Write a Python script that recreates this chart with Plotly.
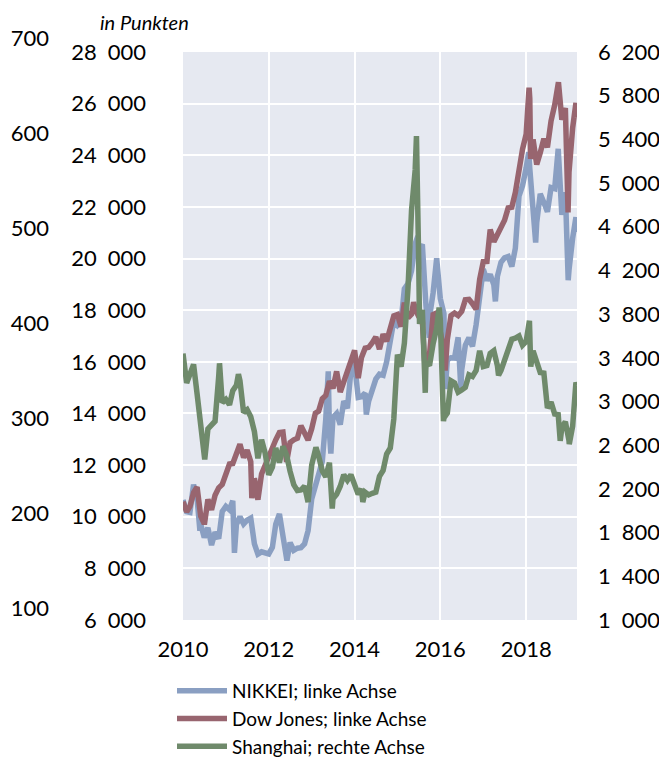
import pandas as pd
import plotly.graph_objects as go

# ---------------- data ----------------
months = pd.date_range("2010-01-01", "2019-03-01", freq="MS")  # 111 month starts

nikkei_monthly = [
    10650, 10200, 10170, 11240, 10700, 9710, 9190, 9570, 8900, 9400, 9150, 10200,   # 2010
    10400, 10270, 10620, 9710, 10000, 9720, 9870, 9950, 8950, 8550, 8640, 8600,     # 2011
    8560, 8810, 9710, 10110, 9350, 8440, 9000, 8700, 8780, 8800, 8950, 9460,        # 2012
    10690, 11190, 11600, 12140, 13800, 13260, 13850, 14000, 13570, 14480, 14200, 15660,  # 2013
    15910, 14620, 14650, 14790, 14480, 14920, 15330, 15520, 15480, 16000, 16860, 17590,  # 2014
    17410, 17560, 18830, 19030, 19530, 20570, 20330, 20550, 18170, 17720, 18680, 20010,  # 2015
    18450, 17870, 16080, 16160, 16150, 16950, 15680, 16640, 16930, 16600, 17440, 18510,  # 2016
    19590, 19150, 19390, 18980, 19310, 19860, 20030, 20080, 19690, 20400, 22420, 22820,  # 2017
    23510, 23490, 21720, 21390, 22510, 22170, 21810, 22750, 22710, 24250, 21690, 22570,  # 2018
    19560, 20790, 21600,                                                             # 2019
]
nikkei_extra_dates = ["2010-05-25", "2011-03-15", "2012-06-04", "2013-05-22", "2013-06-13",
                      "2013-12-30", "2014-04-11", "2015-06-24", "2015-09-29", "2016-02-12",
                      "2016-06-24", "2017-04-14", "2018-01-23", "2018-03-23", "2018-12-25",
                      "2019-03-08"]
nikkei_extra_values = [9460, 8600, 8300, 15630, 12450,
                       16290, 13960, 20870, 16930, 14950,
                       14950, 18340, 24120, 20620, 19160,
                       21030]

dow_monthly = [
    10580, 10190, 10400, 10930, 11150, 10020, 9730, 10670, 10270, 10830, 11120, 11250,  # 2010
    11670, 12040, 12060, 12380, 12810, 12290, 12580, 12130, 11490, 10660, 11660, 12020,  # 2011
    12400, 12710, 12980, 13260, 13280, 12120, 12870, 12980, 13040, 13520, 13230, 12970,  # 2012
    13410, 14010, 14090, 14570, 14700, 15250, 14970, 15630, 14830, 15190, 15620, 16010,  # 2013
    16440, 15370, 16170, 16530, 16560, 16740, 16960, 16490, 17070, 16800, 17370, 17780,  # 2014
    17830, 17360, 18290, 17700, 17840, 18040, 17760, 17600, 16060, 16270, 17830, 17890,  # 2015
    17150, 16450, 16870, 17790, 17890, 17790, 17950, 18400, 18420, 18250, 18040, 19190,  # 2016
    19880, 19890, 21120, 20650, 20910, 21140, 21480, 21960, 21990, 22560, 23440, 24230,  # 2017
    24820, 26190, 24610, 23640, 24100, 24640, 24310, 25330, 25950, 26650, 25380, 25830,  # 2018
    23350, 25060, 26030,                                                              # 2019
]
dow_extra_dates = ["2010-07-02", "2011-08-10", "2015-05-19", "2015-08-25", "2016-02-11",
                   "2018-01-26", "2018-02-08", "2018-10-03", "2018-12-24", "2019-03-08"]
dow_extra_values = [9690, 10720, 18310, 15670, 15660,
                    26620, 23860, 26830, 21790, 25450]

shanghai_monthly = [
    3440, 3170, 3250, 3340, 3070, 2780, 2510, 2750, 2790, 2820, 3230, 2990,   # 2010
    3020, 2970, 3100, 3150, 3190, 2900, 2925, 2860, 2725, 2480, 2650, 2530,   # 2011
    2330, 2400, 2575, 2440, 2590, 2510, 2360, 2240, 2185, 2190, 2225, 2080,   # 2012
    2420, 2565, 2500, 2365, 2310, 2440, 2110, 2150, 2225, 2330, 2280, 2330,   # 2013
    2225, 2150, 2200, 2170, 2145, 2160, 2170, 2315, 2370, 2520, 2575, 2840,   # 2014
    3430, 3320, 3535, 4040, 4750, 5120, 4290, 3840, 3360, 3330, 3530, 3670,   # 2015
    3750, 2850, 2895, 3190, 3170, 3085, 3105, 3130, 3245, 3230, 3285, 3465,   # 2016
    3320, 3330, 3440, 3465, 3330, 3285, 3390, 3490, 3570, 3580, 3600, 3515,   # 2017
    3550, 3660, 3465, 3350, 3265, 3260, 2940, 2995, 2885, 2880, 2760, 2815,   # 2018
    2640, 2775, 3175,                                                         # 2019
]
shanghai_extra_dates = ["2010-07-05", "2010-11-08", "2011-04-18", "2013-02-06", "2013-06-25",
                        "2014-03-12", "2015-06-12", "2015-07-08", "2015-08-26", "2015-12-22",
                        "2016-01-28", "2017-05-11", "2018-01-29", "2018-02-09", "2018-10-18",
                        "2019-01-03", "2019-03-08"]
shanghai_extra_values = [2470, 3350, 3250, 2580, 2020,
                         2080, 5430, 3710, 3080, 3860,
                         2820, 3240, 3740, 3320, 2640,
                         2610, 3150]

left_ticks = list(range(6000, 28001, 2000))
right_ticks = list(range(1000, 6201, 400))
extra_ticks = list(range(100, 701, 100))
year_ticks = ["2010-01-01", "2012-01-01", "2014-01-01", "2016-01-01", "2018-01-01"]
year_labels = ["2010", "2012", "2014", "2016", "2018"]

series_names = ["NIKKEI; linke Achse", "Dow Jones; linke Achse", "Shanghai; rechte Achse"]
series_colors = ["#8a9fc2", "#98656f", "#6f8a6b"]


def merge(monthly, extra_dates, extra_values):
    df = pd.DataFrame({
        "d": list(months) + list(pd.to_datetime(extra_dates)),
        "v": list(monthly) + list(extra_values),
    }).sort_values("d")
    return df["d"], df["v"]


def fmt(v):
    return f"{v:,}".replace(",", "\u2002")


# ---------------- figure ----------------
# the page body adds an 8px margin, so the figure is laid out 8px up/left
W, H = 659, 751
ML, MR, MT, MB = 42, 90, 30, 139
plot_w = W - ML - MR
plot_h = H - MT - MB
x0_frac = (175 - ML) / plot_w
main_top = (612 - 44) / plot_h
ex_bottom = (612 - 600.5) / plot_h
ex_top = (612 - 30.5) / plot_h

FONT = "Lato, 'Open Sans', sans-serif"

fig = go.Figure()

for (monthly, ed, ev), name, color, yax in zip(
        [(nikkei_monthly, nikkei_extra_dates, nikkei_extra_values),
         (dow_monthly, dow_extra_dates, dow_extra_values),
         (shanghai_monthly, shanghai_extra_dates, shanghai_extra_values)],
        series_names, series_colors, ["y", "y", "y2"]):
    d, v = merge(monthly, ed, ev)
    fig.add_trace(go.Scatter(x=d, y=v, name=name, mode="lines",
                             line=dict(color=color, width=5.5),
                             xaxis="x", yaxis=yax))

# empty trace carrying the extra far-left axis
fig.add_trace(go.Scatter(x=[], y=[], xaxis="x2", yaxis="y3", showlegend=False,
                         hoverinfo="skip"))

fig.add_shape(type="rect", xref="x domain", yref="y domain", x0=0, x1=1, y0=0, y1=1,
              fillcolor="#e6e9f1", line=dict(width=0), layer="below")

tickfont = dict(family=FONT, size=22, color="#000000")

fig.update_layout(
    width=W, height=H,
    margin=dict(l=ML, r=MR, t=MT, b=MB, autoexpand=False),
    paper_bgcolor="white",
    plot_bgcolor="rgba(0,0,0,0)",
    font=dict(family=FONT, size=21, color="#000000"),
    showlegend=True,
    legend=dict(x=(164 - ML) / plot_w, y=(612 - 664) / plot_h, xanchor="left", yanchor="top",
                font=dict(family=FONT, size=19, color="#000000"),
                bgcolor="rgba(0,0,0,0)", tracegroupgap=0, itemwidth=50),
    xaxis=dict(domain=[x0_frac, 1], range=["2010-01-01", "2019-03-10"],
               tickvals=year_ticks, ticktext=year_labels,
               showgrid=True, gridcolor="white", gridwidth=2,
               zeroline=False, showline=False, ticks="", automargin=False,
               tickfont=tickfont, ticklabelstandoff=14, anchor="y"),
    yaxis=dict(domain=[0, main_top], range=[6000, 28000],
               tickvals=left_ticks, ticktext=[fmt(v) for v in left_ticks],
               showgrid=True, gridcolor="white", gridwidth=2,
               zeroline=False, showline=False, ticks="", automargin=False,
               tickfont=tickfont, ticklabelstandoff=36, anchor="x"),
    yaxis2=dict(overlaying="y", side="right", range=[1000, 6200],
                tickvals=right_ticks, ticktext=[fmt(v) for v in right_ticks],
                showgrid=False, zeroline=False, showline=False, ticks="", automargin=False,
                tickfont=tickfont, ticklabelstandoff=20, anchor="x"),
    xaxis2=dict(domain=[0, 0.001], visible=False, anchor="y3", range=[0, 1]),
    yaxis3=dict(domain=[ex_bottom, ex_top], range=[100, 700], anchor="x2", side="left",
                tickvals=extra_ticks, ticktext=[str(v) for v in extra_ticks],
                showgrid=False, zeroline=False, showline=False, ticks="", automargin=False,
                tickfont=tickfont),
    annotations=[dict(text="<i>in Punkten</i>", xref="paper", yref="paper",
                      x=(136 - ML) / plot_w, y=(612 - 14) / plot_h,
                      xanchor="center", yanchor="middle", showarrow=False,
                      font=dict(family=FONT, size=20, color="#000000"))],
)

fig.write_html("out.html")
